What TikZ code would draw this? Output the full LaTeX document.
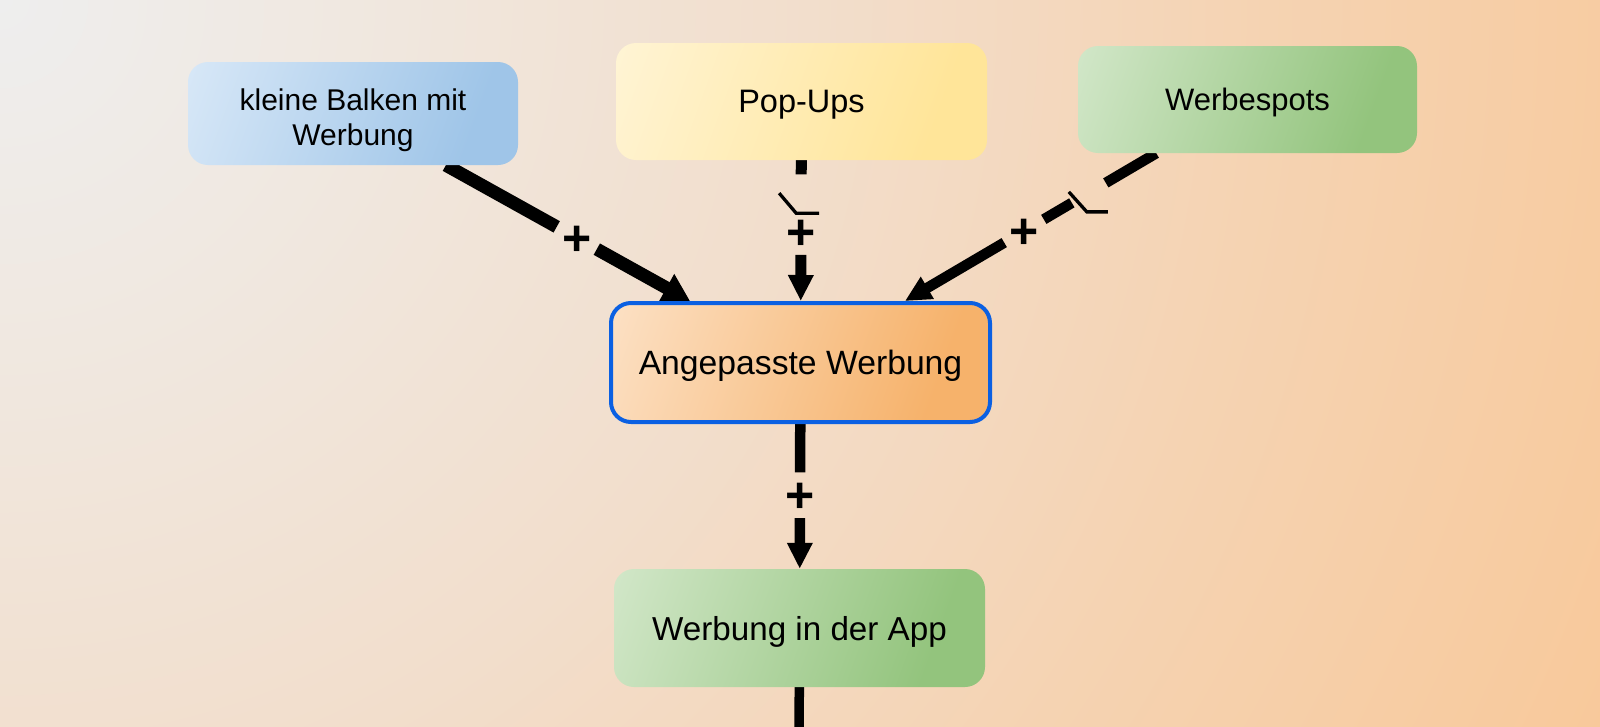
\documentclass[tikz,border=0pt]{standalone}
\usepackage{fontspec}
\setmainfont{Liberation Sans}
\usetikzlibrary{arrows.meta,calc}

\definecolor{bgA}{HTML}{EEEEEE}
\definecolor{bgB}{HTML}{F0E8E0}
\definecolor{bgC}{HTML}{F2DECC}
\definecolor{bgD}{HTML}{F5D3B2}
\definecolor{bgE}{HTML}{F8C99B}
\definecolor{blueL}{HTML}{EAF3FC}
\definecolor{blueD}{HTML}{9FC5E8}
\definecolor{yelL}{HTML}{FFF9E8}
\definecolor{yelD}{HTML}{FFE599}
\definecolor{grnL}{HTML}{E6F2E1}
\definecolor{grnD}{HTML}{93C47D}
\definecolor{orgL}{HTML}{FEF0E2}
\definecolor{orgD}{HTML}{F6B26B}
\definecolor{frameblue}{HTML}{0B60E2}

\pgfdeclareradialshading{bgshade}{\pgfpoint{0bp}{0bp}}{color(0bp)=(bgA); color(5bp)=(bgB); color(11.5bp)=(bgC); color(18bp)=(bgD); color(25bp)=(bgE); color(50bp)=(bgE)}
\pgfdeclarehorizontalshading{bluegrad}{100bp}{color(0bp)=(blueL); color(72bp)=(blueD); color(100bp)=(blueD)}
\pgfdeclarehorizontalshading{yelgrad}{100bp}{color(0bp)=(yelL); color(72bp)=(yelD); color(100bp)=(yelD)}
\pgfdeclarehorizontalshading{grngrad}{100bp}{color(0bp)=(grnL); color(72bp)=(grnD); color(100bp)=(grnD)}
\pgfdeclarehorizontalshading{orggrad}{100bp}{color(0bp)=(orgL); color(72bp)=(orgD); color(100bp)=(orgD)}

\pgfdeclarelayer{bg}
\pgfdeclarelayer{lines}
\pgfsetlayers{bg,lines,main}

\begin{document}
\begin{tikzpicture}[x=1pt,y=-1pt,
  box/.style={rounded corners=20pt, inner sep=0pt, align=center, text=black, text depth=0pt, shade, shading angle=-20},
  plab/.style={circle, minimum size=38pt, inner sep=0pt, text height=35pt, text depth=0pt, font=\fontsize{50}{50}\selectfont\bfseries},
  dlab/.style={circle, minimum size=39pt, inner sep=0pt},
  conn/.style={draw=black, line cap=butt},
  tipA/.style={-{Triangle[length=26pt,width=24pt]}},
  tipB/.style={-{Triangle[length=27pt,width=30pt]}},
  delaymark/.style={draw=black, line width=3.3pt, line cap=butt},
]
\useasboundingbox (0,0) rectangle (1600,726);
\begin{pgfonlayer}{bg}
  \clip (0,0) rectangle (1600,726);
  \shade[shading=bgshade] (0,0) circle[radius=1760];
\end{pgfonlayer}

% nodes
\node[box, shading=bluegrad, minimum width=330pt, minimum height=103pt, font=\fontsize{30}{35}\selectfont] (kb) at (353,113.5) {\rule{0pt}{28.2pt}kleine Balken mit\\Werbung};
\node[box, shading=yelgrad, minimum width=371pt, minimum height=117pt, font=\fontsize{32.5}{38}\selectfont] (pop) at (801.5,101.5) {Pop-Ups};
\node[box, shading=grngrad, minimum width=339pt, minimum height=107pt, font=\fontsize{31}{36}\selectfont] (ws) at (1247.5,99.5) {Werbespots};
\node[box, shading=orggrad, draw=frameblue, line width=4pt, minimum width=379pt, minimum height=119pt, font=\fontsize{33.7}{40}\selectfont] (ang) at (800.5,362.5) {Angepasste Werbung};
\node[box, shading=grngrad, minimum width=371pt, minimum height=118pt, font=\fontsize{33.2}{40}\selectfont] (app) at (799.5,628) {Werbung in der App};

% labels
\node[plab] (p1) at ($(kb)!0.5!(ang)$) {+};
\node[plab] (p2) at ($(pop)!0.5!(ang)$) {+};
\node[plab] (p3) at ($(ws)!0.5!(ang)$) {+};
\node[plab] (p4) at ($(ang)!0.5!(app)$) {+};
\node[dlab] (d2) at ($(pop)!0.355!(ang)$) {};
\node[dlab] (d3) at ($(ws)!0.355!(ang)$) {};
\coordinate (out) at (799,760);

% delay marks
\draw[delaymark] ($(d2)+(-22,-1)$) -- ++(17,20) -- ++(23,0);
\draw[delaymark] ($(d3)+(-20,-1)$) -- ++(18,20) -- ++(21,0);

% connectors (under the boxes)
\begin{pgfonlayer}{lines}
\draw[conn, line width=13pt] (kb) -- (p1);
\draw[conn, line width=13pt, tipB] (p1) -- (ang);

\draw[conn, line width=11pt] (pop) -- (d2);
\draw[conn, line width=11pt, tipA] (p2) -- (ang);

\draw[conn, line width=10.5pt] (ws) -- (d3);
\draw[conn, line width=10.5pt] (d3) -- (p3);
\draw[conn, line width=10.5pt, tipA] (p3) -- (ang);

\draw[conn, line width=10.5pt] (ang) -- (p4);
\draw[conn, line width=10.5pt, tipA] (p4) -- (app);

\draw[conn, line width=9.5pt] (app) -- (out);
\end{pgfonlayer}
\end{tikzpicture}
\end{document}
